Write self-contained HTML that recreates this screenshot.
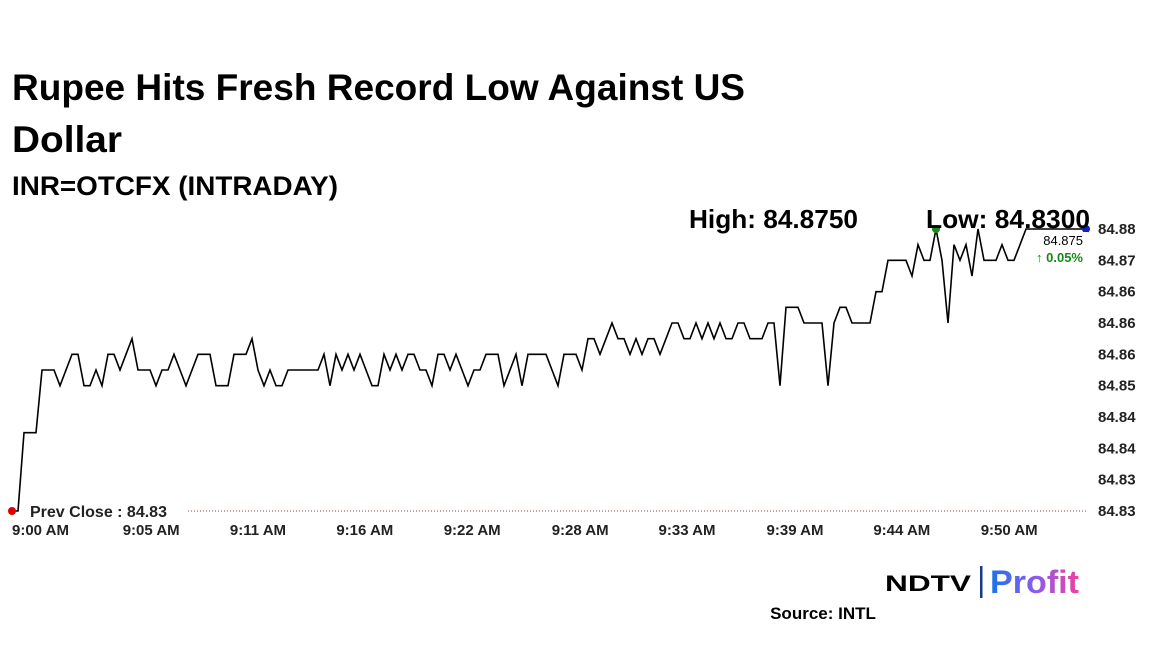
<!DOCTYPE html>
<html><head><meta charset="utf-8"><style>
html,body{margin:0;padding:0;background:#fff;width:1152px;height:648px;overflow:hidden}
svg{display:block;font-family:"Liberation Sans",Arial,sans-serif}
</style></head><body>
<svg id="chart" width="1152" height="648" viewBox="0 0 1152 648">
<defs><linearGradient id="pg" x1="0" x2="1" y1="0" y2="0"><stop offset="0" stop-color="#1a73e8"/><stop offset="0.5" stop-color="#8a5cf0"/><stop offset="1" stop-color="#f0409a"/></linearGradient></defs>
<text x="12" y="100" font-size="37" font-weight="bold" textLength="733" lengthAdjust="spacingAndGlyphs" fill="#000">Rupee Hits Fresh Record Low Against US</text>
<text x="12" y="152" font-size="37" font-weight="bold" textLength="110" lengthAdjust="spacingAndGlyphs" fill="#000">Dollar</text>
<text x="12" y="195" font-size="27" font-weight="bold" textLength="326" lengthAdjust="spacingAndGlyphs" fill="#000">INR=OTCFX (INTRADAY)</text>
<text x="689" y="228" font-size="26" font-weight="bold" textLength="169" lengthAdjust="spacingAndGlyphs" fill="#000">High: 84.8750</text>
<g id="plot"></g>
<text x="926" y="228" font-size="26" font-weight="bold" textLength="164" lengthAdjust="spacingAndGlyphs" fill="#000">Low: 84.8300</text>
<text x="885" y="591" font-size="22" font-weight="900" textLength="86" lengthAdjust="spacingAndGlyphs" fill="#000">NDTV</text>
<rect x="980" y="566" width="2.5" height="32" fill="#1a3a8a"/>
<text x="990" y="593" font-size="32" font-weight="bold" textLength="89" lengthAdjust="spacingAndGlyphs" fill="url(#pg)">Profit</text>
<text x="823" y="619" font-size="17" font-weight="bold" text-anchor="middle" fill="#000">Source: INTL</text>
</svg>
<script>
const values = [84.83,84.83,84.8425,84.8425,84.8425,84.8525,84.8525,84.8525,84.85,84.8525,84.855,84.855,84.85,84.85,84.8525,84.85,84.855,84.855,84.8525,84.855,84.8575,84.8525,84.8525,84.8525,84.85,84.8525,84.8525,84.855,84.8525,84.85,84.8525,84.855,84.855,84.855,84.85,84.85,84.85,84.855,84.855,84.855,84.8575,84.8525,84.85,84.8525,84.85,84.85,84.8525,84.8525,84.8525,
84.8525,84.8525,84.8525,84.855,84.85,84.855,84.8525,84.855,84.8525,84.855,84.8525,84.85,84.85,84.855,84.8525,84.855,84.8525,84.855,84.855,84.8525,84.8525,84.85,84.855,84.855,84.8525,84.855,84.8525,84.85,84.8525,84.8525,84.855,84.855,84.855,84.85,84.8525,84.855,84.85,84.855,84.855,84.855,84.855,84.8525,84.85,84.855,84.855,84.855,84.8525,84.8575,
84.8575,84.855,84.8575,84.86,84.8575,84.8575,84.855,84.8575,84.855,84.8575,84.8575,84.855,84.8575,84.86,84.86,84.8575,84.8575,84.86,84.8575,84.86,84.8575,84.86,84.8575,84.8575,84.86,84.86,84.8575,84.8575,84.8575,84.86,84.86,84.85,84.8625,84.8625,84.8625,84.86,84.86,84.86,84.86,84.85,84.86,84.8625,84.8625,84.86,84.86,84.86,84.86,84.865,84.865,
84.87,84.87,84.87,84.87,84.8675,84.8725,84.87,84.87,84.875,84.87,84.86,84.8725,84.87,84.8725,84.8675,84.875,84.87,84.87,84.87,84.8725,84.87,84.87,84.8725,84.875,84.875,84.875,84.875,84.875,84.875,84.875,84.875,84.875,84.875,84.875];
const yTicks = [84.83,84.835,84.84,84.845,84.85,84.855,84.86,84.865,84.87,84.875];
const yTickLabels = ["84.83","84.83","84.84","84.84","84.85","84.86","84.86","84.86","84.87","84.88"];
const xLabels = ["9:00 AM","9:05 AM","9:11 AM","9:16 AM","9:22 AM","9:28 AM","9:33 AM","9:39 AM","9:44 AM","9:50 AM"];
const xLabelIdx = [0,23.2,41,58.8,76.7,94.7,112.5,130.5,148.3,166.2];
const prevClose = 84.83;
const highIdx = 154;

const NS="http://www.w3.org/2000/svg";
const plot=document.getElementById('plot');
const X0=12,X1=1086,Y0=511,Y1=229,VMIN=84.83,VMAX=84.875;
const xs=i=>X0+(X1-X0)*i/(values.length-1);
const ys=v=>Y0-(v-VMIN)/(VMAX-VMIN)*(Y0-Y1);
function mk(tag,attrs){const e=document.createElementNS(NS,tag);for(const k in attrs)e.setAttribute(k,attrs[k]);plot.appendChild(e);return e;}

const pc=mk('line',{x1:188,x2:1088,y1:ys(prevClose),y2:ys(prevClose),stroke:'#a04040','stroke-width':1,'stroke-dasharray':'1 2'});


const pct=mk('text',{x:30,y:517,'font-size':16,'font-weight':'bold',fill:'#222'});
pct.textContent='Prev Close : '+prevClose.toFixed(2);



yTicks.forEach((t,i)=>{
  const e=mk('text',{x:1098,y:ys(t)+5,'font-size':15,'font-weight':'bold',fill:'#222'});
  e.textContent=yTickLabels[i];
  
  
});
xLabels.forEach((l,i)=>{
  const x=xs(xLabelIdx[i]);
  const e=mk('text',{x:i===0?12:x,y:535,'font-size':15,'font-weight':'bold',fill:'#222','text-anchor':i===0?'start':'middle'});
  e.textContent=l;
  
  
});

const d=values.map((v,i)=>(i?'L':'M')+xs(i).toFixed(1)+' '+ys(v).toFixed(1)).join(' ');
const line=mk('path',{d:d,fill:'none',stroke:'#000','stroke-width':1.6,'stroke-linejoin':'miter'});



const sd=mk('circle',{cx:xs(0),cy:ys(values[0]),r:4,fill:'#e00000'});


const hd=mk('circle',{cx:xs(highIdx),cy:ys(values[highIdx]),r:4,fill:'#1a8a1a'});


const last=values[values.length-1];
const ed=mk('circle',{cx:xs(values.length-1),cy:ys(last),r:4,fill:'#1020c0'});



const box=mk('rect',{x:1032,y:232,width:56,height:34,fill:'#fff'});


const lv=mk('text',{x:1083,y:245,'font-size':13,'text-anchor':'end',fill:'#000'});
lv.textContent=last.toFixed(3);


const ch=mk('text',{x:1083,y:262,'font-size':13,'font-weight':'bold','text-anchor':'end',fill:'#138a13'});
ch.textContent='\u2191 '+((last-prevClose)/prevClose*100).toFixed(2)+'%';


</script>
</body></html>
